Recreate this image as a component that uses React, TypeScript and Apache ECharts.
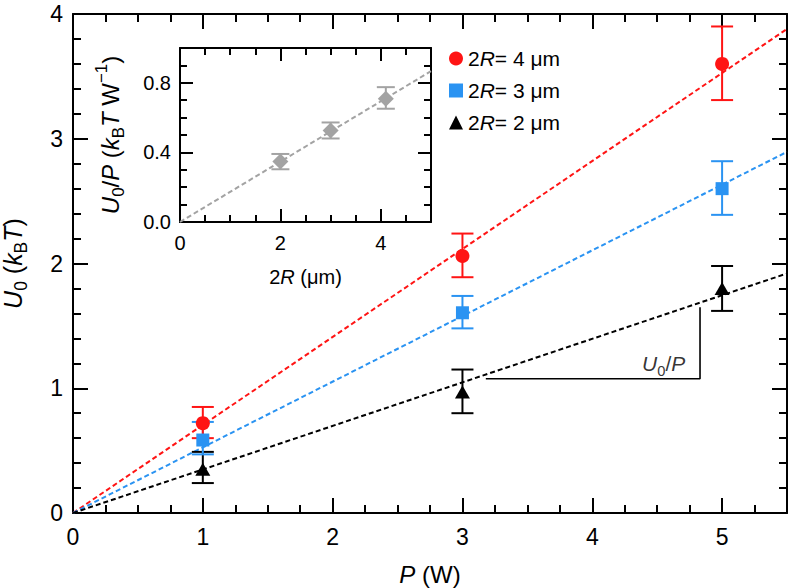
import React, { useEffect, useRef } from "react";
import * as echarts from "echarts";

// ---------- data ----------
const powers = [1, 3, 5]; // P (W)
// 2R = 4 um
const u4 = [0.72, 2.06, 3.6];
const u4Lo = [0.6, 1.89, 3.31];
const u4Hi = [0.85, 2.24, 3.9];
// 2R = 3 um
const u3 = [0.585, 1.605, 2.6];
const u3Lo = [0.47, 1.48, 2.39];
const u3Hi = [0.73, 1.74, 2.82];
// 2R = 2 um
const u2 = [0.35, 0.97, 1.8];
const u2Lo = [0.24, 0.8, 1.62];
const u2Hi = [0.49, 1.15, 1.98];
// linear fits through the origin: [P, U0] end points
const fitX = [0, 5.5];
const fit4 = [0, 3.88];
const fit3 = [0, 2.895];
const fit2 = [0, 1.92];
// slope annotation (data coords)
const slopeX = [3.18, 4.83, 4.83];
const slopeY = [1.076, 1.076, 1.65];
const slopeLabelPos = [4.55, 1.2];

// inset: U0/P vs 2R
const diameters = [2, 3, 4.1];
const ratio = [0.347, 0.526, 0.709];
const ratioLo = [0.303, 0.48, 0.651];
const ratioHi = [0.391, 0.572, 0.775];
const insetFitX = [0, 5];
const insetFitY = [0, 0.867];

// ---------- styles ----------
const FONT = '"Liberation Sans", Arial, Helvetica, sans-serif';
const BLACK = "#000000";
const RED = "#ff1414";
const BLUE = "#2a93f2";
const GRAY = "#a3a3a3";

function rich(F: number) {
  return {
    n: { fontSize: F, fontFamily: FONT, color: BLACK, lineHeight: F * 1.4, verticalAlign: "middle" },
    i: { fontSize: F, fontFamily: FONT, color: BLACK, fontStyle: "italic", lineHeight: F * 1.4, verticalAlign: "middle" },
    s: { fontSize: F * 0.7, fontFamily: FONT, color: BLACK, lineHeight: F * 0.7, verticalAlign: "bottom" },
    p: { fontSize: F * 0.7, fontFamily: FONT, color: BLACK, lineHeight: F * 0.7, verticalAlign: "top" },
  };
}

function axis(o: any) {
  return {
    type: "value",
    gridIndex: o.grid,
    position: o.position,
    min: o.min,
    max: o.max,
    interval: o.interval,
    axisLine: { show: true, onZero: false, lineStyle: { color: BLACK, width: 2 } },
    axisTick: { show: true, inside: true, length: o.tick, lineStyle: { color: BLACK, width: 2 } },
    minorTick: { show: true, splitNumber: o.minorSplit, length: o.minorLen, lineStyle: { color: BLACK, width: 2 } },
    minorSplitLine: { show: false },
    axisLabel: o.label
      ? {
          show: true,
          color: BLACK,
          fontFamily: FONT,
          fontSize: o.label.size,
          margin: o.label.margin,
          showMaxLabel: o.label.showMax,
          formatter: o.label.fmt,
        }
      : { show: false },
    splitLine: { show: false },
    name: o.name,
    nameLocation: "middle",
    nameGap: o.nameGap,
    nameTextStyle: o.name ? { fontSize: o.nameSize, fontFamily: FONT, color: BLACK, rich: rich(o.nameSize) } : undefined,
  };
}

function errorBars(xs: number[], lo: number[], hi: number[], color: string, xi: number, yi: number, hw: number, z: number) {
  return {
    type: "custom",
    xAxisIndex: xi,
    yAxisIndex: yi,
    silent: true,
    z,
    data: xs.map((x, i) => [x, lo[i], hi[i]]),
    encode: { x: 0, y: [1, 2] },
    renderItem: (params: any, api: any) => {
      const a = api.coord([api.value(0), api.value(1)]);
      const b = api.coord([api.value(0), api.value(2)]);
      const st = { stroke: color, lineWidth: 2 };
      return {
        type: "group",
        children: [
          { type: "line", shape: { x1: a[0], y1: a[1], x2: b[0], y2: b[1] }, style: st },
          { type: "line", shape: { x1: a[0] - hw, y1: a[1], x2: a[0] + hw, y2: a[1] }, style: st },
          { type: "line", shape: { x1: b[0] - hw, y1: b[1], x2: b[0] + hw, y2: b[1] }, style: st },
        ],
      };
    },
  };
}

function fitLine(xs: number[], ys: number[], color: string, xi: number, yi: number) {
  return {
    type: "line",
    xAxisIndex: xi,
    yAxisIndex: yi,
    silent: true,
    symbol: "none",
    z: 2,
    data: xs.map((x, i) => [x, ys[i]]),
    lineStyle: { color, width: 2, type: [5, 3] },
  };
}

const NAMES = ["2R= 4 μm", "2R= 3 μm", "2R= 2 μm"];

export default function App() {
  const ref = useRef<HTMLDivElement>(null);
  useEffect(() => {
    document.body.style.margin = "0";
    const chart = echarts.init(ref.current!, null, { renderer: "svg" });
    const option: any = {
      animation: false,
      backgroundColor: "#ffffff",
      grid: [
        { left: 73, top: 14, right: 1, bottom: 75, outerBoundsMode: "none", containLabel: false },
        { left: 180, top: 48, width: 251, height: 174, outerBoundsMode: "none", containLabel: false },
      ],
      xAxis: [
        axis({ grid: 0, position: "bottom", min: 0, max: 5.5, interval: 1, tick: 15, minorSplit: 4, minorLen: 8,
          label: { size: 23, margin: 12, showMax: false, fmt: (v: number) => String(v) },
          name: "{i|P}{n| (W)}", nameGap: 45, nameSize: 24 }),
        axis({ grid: 0, position: "top", min: 0, max: 5.5, interval: 1, tick: 15, minorSplit: 4, minorLen: 8 }),
        axis({ grid: 1, position: "bottom", min: 0, max: 5, interval: 2, tick: 13, minorSplit: 4, minorLen: 7,
          label: { size: 20, margin: 11, showMax: false, fmt: (v: number) => String(v) },
          name: "{n|2}{i|R}{n| (μm)}", nameGap: 41, nameSize: 20 }),
        axis({ grid: 1, position: "top", min: 0, max: 5, interval: 2, tick: 13, minorSplit: 4, minorLen: 7 }),
      ],
      yAxis: [
        axis({ grid: 0, position: "left", min: 0, max: 4, interval: 1, tick: 15, minorSplit: 5, minorLen: 8,
          label: { size: 23, margin: 10, showMax: true, fmt: (v: number) => String(v) },
          name: "{i|U}{s|0}{n| (}{i|k}{s|B}{i|T}{n|)}", nameGap: 43, nameSize: 25 }),
        axis({ grid: 0, position: "right", min: 0, max: 4, interval: 1, tick: 15, minorSplit: 5, minorLen: 8 }),
        axis({ grid: 1, position: "left", min: 0, max: 1, interval: 0.4, tick: 13, minorSplit: 4, minorLen: 7,
          label: { size: 20, margin: 9, showMax: false, fmt: (v: number) => v.toFixed(1) },
          name: "{i|U}{s|0}{n|/}{i|P}{n| (}{i|k}{s|B}{i|T}{n| W}{p|−1}{n|)}", nameGap: 53, nameSize: 24 }),
        axis({ grid: 1, position: "right", min: 0, max: 1, interval: 0.4, tick: 13, minorSplit: 4, minorLen: 7 }),
      ],
      legend: {
        orient: "vertical",
        left: 444,
        top: 43,
        itemWidth: 14,
        itemHeight: 14,
        itemGap: 11,
        selectedMode: false,
        data: [
          { name: NAMES[0], icon: "circle" },
          { name: NAMES[1], icon: "rect" },
          { name: NAMES[2], icon: "triangle" },
        ],
        formatter: (name: string) => "{n|2}{i|R}{n|" + name.slice(2) + "}",
        textStyle: {
          fontSize: 21,
          fontFamily: FONT,
          color: BLACK,
          rich: {
            n: { fontSize: 21, fontFamily: FONT, color: BLACK, lineHeight: 21 },
            i: { fontSize: 21, fontFamily: FONT, color: BLACK, fontStyle: "italic", lineHeight: 21 },
          },
        },
      },
      series: [
        fitLine(fitX, fit4, RED, 0, 0),
        fitLine(fitX, fit3, BLUE, 0, 0),
        fitLine(fitX, fit2, BLACK, 0, 0),
        {
          type: "line",
          xAxisIndex: 0,
          yAxisIndex: 0,
          silent: true,
          symbol: "none",
          z: 2,
          data: slopeX.map((x, i) => [x, slopeY[i]]),
          lineStyle: { color: BLACK, width: 1.6 },
        },
        {
          type: "scatter",
          xAxisIndex: 0,
          yAxisIndex: 0,
          silent: true,
          symbolSize: 0,
          data: [slopeLabelPos],
          label: {
            show: true,
            position: "inside",
            formatter: "{i|U}{s|0}{n|/}{i|P}",
            rich: rich(21),
          },
        },
        errorBars(powers, u2Lo, u2Hi, BLACK, 0, 0, 11, 3),
        errorBars(powers, u3Lo, u3Hi, BLUE, 0, 0, 11, 3),
        errorBars(powers, u4Lo, u4Hi, RED, 0, 0, 11, 3),
        {
          type: "scatter", name: NAMES[2], xAxisIndex: 0, yAxisIndex: 0, z: 5,
          symbol: "triangle", symbolSize: [15, 13],
          data: powers.map((p, i) => [p, u2[i]]),
          itemStyle: { color: BLACK, opacity: 1 },
        },
        {
          type: "scatter", name: NAMES[1], xAxisIndex: 0, yAxisIndex: 0, z: 5,
          symbol: "rect", symbolSize: 13,
          data: powers.map((p, i) => [p, u3[i]]),
          itemStyle: { color: BLUE, opacity: 1 },
        },
        {
          type: "scatter", name: NAMES[0], xAxisIndex: 0, yAxisIndex: 0, z: 5,
          symbol: "circle", symbolSize: 14,
          data: powers.map((p, i) => [p, u4[i]]),
          itemStyle: { color: RED, opacity: 1 },
        },
        // inset
        fitLine(insetFitX, insetFitY, GRAY, 2, 2),
        errorBars(diameters, ratioLo, ratioHi, GRAY, 2, 2, 9, 3),
        {
          type: "scatter", name: "inset", xAxisIndex: 2, yAxisIndex: 2, z: 5,
          symbol: "diamond", symbolSize: [16, 16],
          data: diameters.map((d, i) => [d, ratio[i]]),
          itemStyle: { color: GRAY, opacity: 1 },
        },
      ],
    };
    chart.setOption(option);
    return () => chart.dispose();
  }, []);
  return <div ref={ref} style={{ width: 788, height: 588 }} />;
}
